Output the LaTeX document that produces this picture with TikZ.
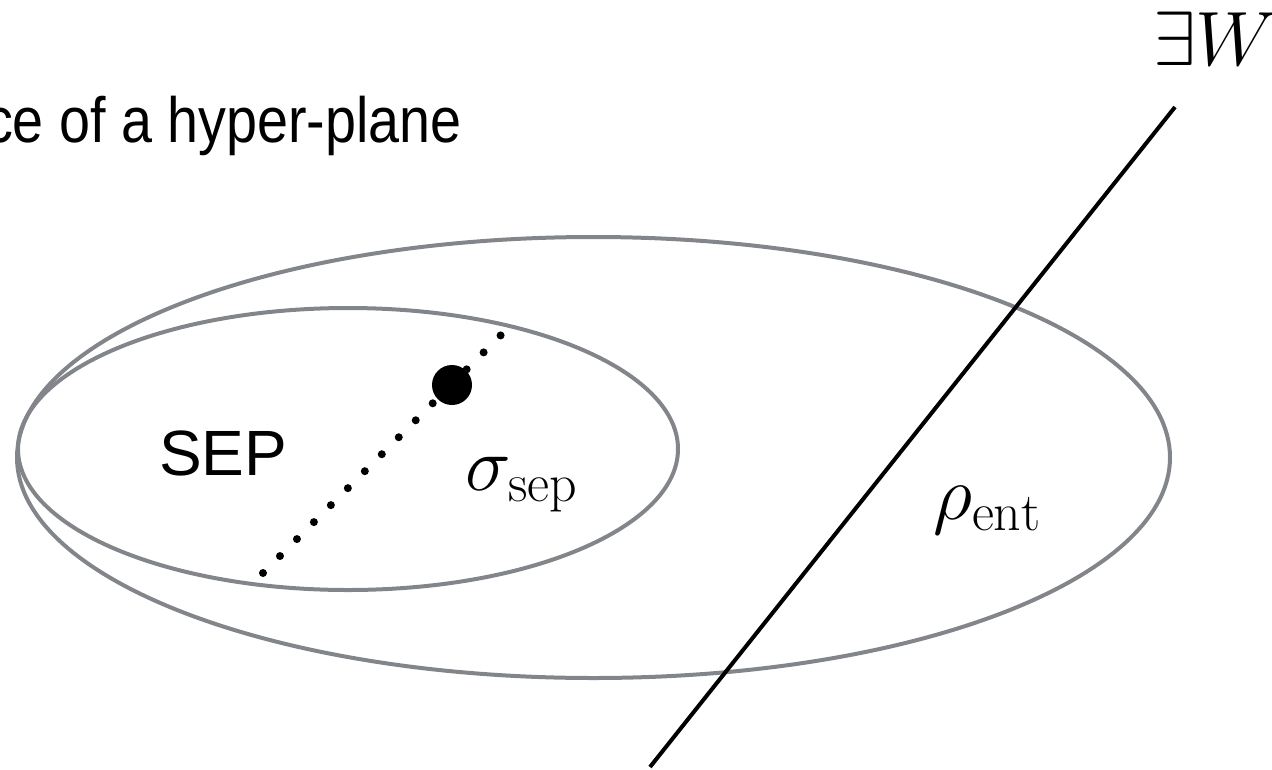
\RequirePackage{fix-cm}
\documentclass[tikz,border=0pt]{standalone}
\usepackage{fontspec}
\newfontfamily\helvfont{Liberation Sans}
\usetikzlibrary{positioning}
\definecolor{setgray}{RGB}{130,133,137}

\begin{document}
\begin{tikzpicture}[
    x=1pt, y=-1pt,
    setline/.style={draw=setgray, line width=4pt},
    plane/.style={draw=black, line width=4pt},
    dotline/.style={line width=8pt, line cap=round, dash pattern=on 0pt off 24pt},
    sanslabel/.style={inner sep=0pt, font=\helvfont\fontsize{64}{72}\selectfont},
    mathlabel/.style={inner sep=0pt, font=\fontsize{77}{90}\selectfont}
]
    \useasboundingbox (0,0) rectangle (1272,769);

    % the two sets
    \draw[setline] (593.5,457.5) ellipse [x radius=576.5, y radius=220.5];
    \draw[setline] (348,449) ellipse [x radius=330, y radius=141];

    % separable state and the dotted path through it
    \coordinate (pathstart) at (263,573);
    \coordinate (pathend) at (503,333);
    \draw[dotline] (pathstart) -- (pathend);
    \fill (452,385) circle [radius=20];

    % the hyper-plane
    \coordinate (planelow) at (650,767);
    \coordinate (planehigh) at (1175,107);
    \draw[plane] (planelow) -- (planehigh);

    % labels
    \node[sanslabel, anchor=base east] (title) at (462,142) {\scalebox{0.87}[1]{ce of a hyper-plane}};
    \node[sanslabel, anchor=base west] (sep) at (159,475) {SEP};
    \node[mathlabel, anchor=base west] (sigma) at (465,490) {$\sigma_{\mathrm{sep}}$};
    \node[mathlabel, anchor=base west] (rho) at (933,519) {$\rho_{\mathrm{ent}}$};
    \node[mathlabel, anchor=base west] (witness) at (1153,65) {$\exists W$};
\end{tikzpicture}
\end{document}
